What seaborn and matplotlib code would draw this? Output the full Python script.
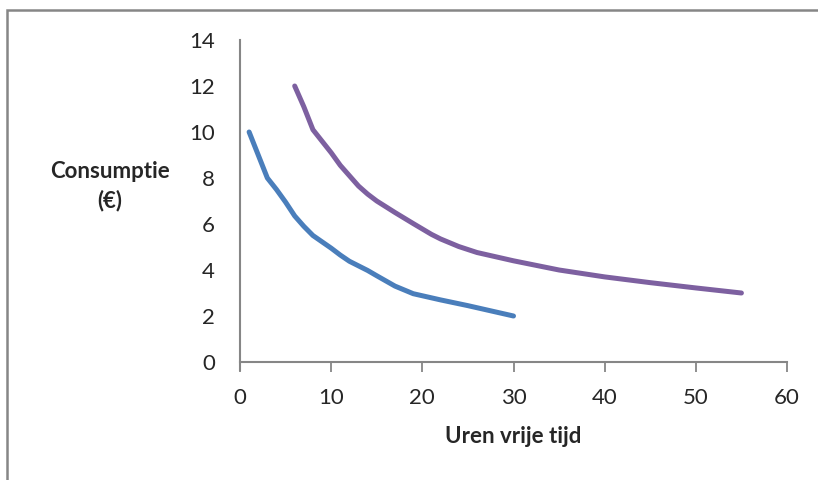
import matplotlib
matplotlib.use("Agg")
import matplotlib.pyplot as plt
import seaborn as sns
import pandas as pd
from matplotlib.patches import Rectangle

# Data
blue_x = [1, 2, 3, 4, 5, 6, 7, 8, 10, 11, 12, 14, 15, 17, 19, 22, 25, 30]
blue_y = [10, 9.0, 8.0, 7.5, 6.95, 6.35, 5.9, 5.5, 4.95, 4.65, 4.38, 3.98, 3.75, 3.3, 2.97, 2.7, 2.45, 2.0]
purple_x = [6, 7, 8, 9, 10, 11, 12, 13, 14, 15, 17, 19, 21, 22, 24, 26, 30, 35, 40, 45, 50, 55]
purple_y = [12, 11.1, 10.1, 9.6, 9.1, 8.55, 8.1, 7.65, 7.3, 7.0, 6.5, 6.02, 5.55, 5.35, 5.02, 4.76, 4.4, 4.0, 3.7, 3.45, 3.22, 3.0]
x_ticks = [0, 10, 20, 30, 40, 50, 60]
y_ticks = [0, 2, 4, 6, 8, 10, 12, 14]
x_label = "Uren vrije tijd"
y_label = "Consumptie\n(€)"

sns.set_style("white")
plt.rcParams['font.family'] = ['Lato', 'DejaVu Sans']

df = pd.concat([
    pd.DataFrame({"x": blue_x, "y": blue_y, "s": "A"}),
    pd.DataFrame({"x": purple_x, "y": purple_y, "s": "B"}),
])

fig = plt.figure(figsize=(8.18, 4.8), dpi=100)
ax = fig.add_axes([240/818, 1-362/480, (787-240)/818, (362-40)/480])

sns.lineplot(data=df, x="x", y="y", hue="s", palette={"A": "#4a7ebb", "B": "#7d60a0"},
             linewidth=3.6, ax=ax, legend=False, sort=False, estimator=None,
             solid_capstyle="round", solid_joinstyle="round")

ax.set_xlim(0, 60)
ax.set_ylim(0, 14)
ax.set_xticks(x_ticks)
ax.set_yticks(y_ticks)
ax.tick_params(axis="x", direction="out", length=7, width=1.3, color="#868686",
               labelsize=16, pad=12, bottom=True)
ax.tick_params(axis="y", length=0, labelsize=16, pad=18, left=False)
for s in ["top", "right"]:
    ax.spines[s].set_visible(False)
for s in ["left", "bottom"]:
    ax.spines[s].set_color("#868686")
    ax.spines[s].set_linewidth(1.5)
ax.spines["left"].set_bounds(-0.35, 14)

ax.set_xlabel(x_label, fontsize=16, fontweight="bold", labelpad=13)
ax.set_ylabel("")
fig.text(110/818, 1-186/480, y_label, fontsize=16, fontweight="bold",
         ha="center", va="center", linespacing=1.45)

fig.patches.append(Rectangle((6.5/818, -0.1), 1.2, (480-10)/480 + 0.1,
                             transform=fig.transFigure, fill=False,
                             edgecolor="#868686", linewidth=1.8))

fig.savefig("out.png", dpi=100)
